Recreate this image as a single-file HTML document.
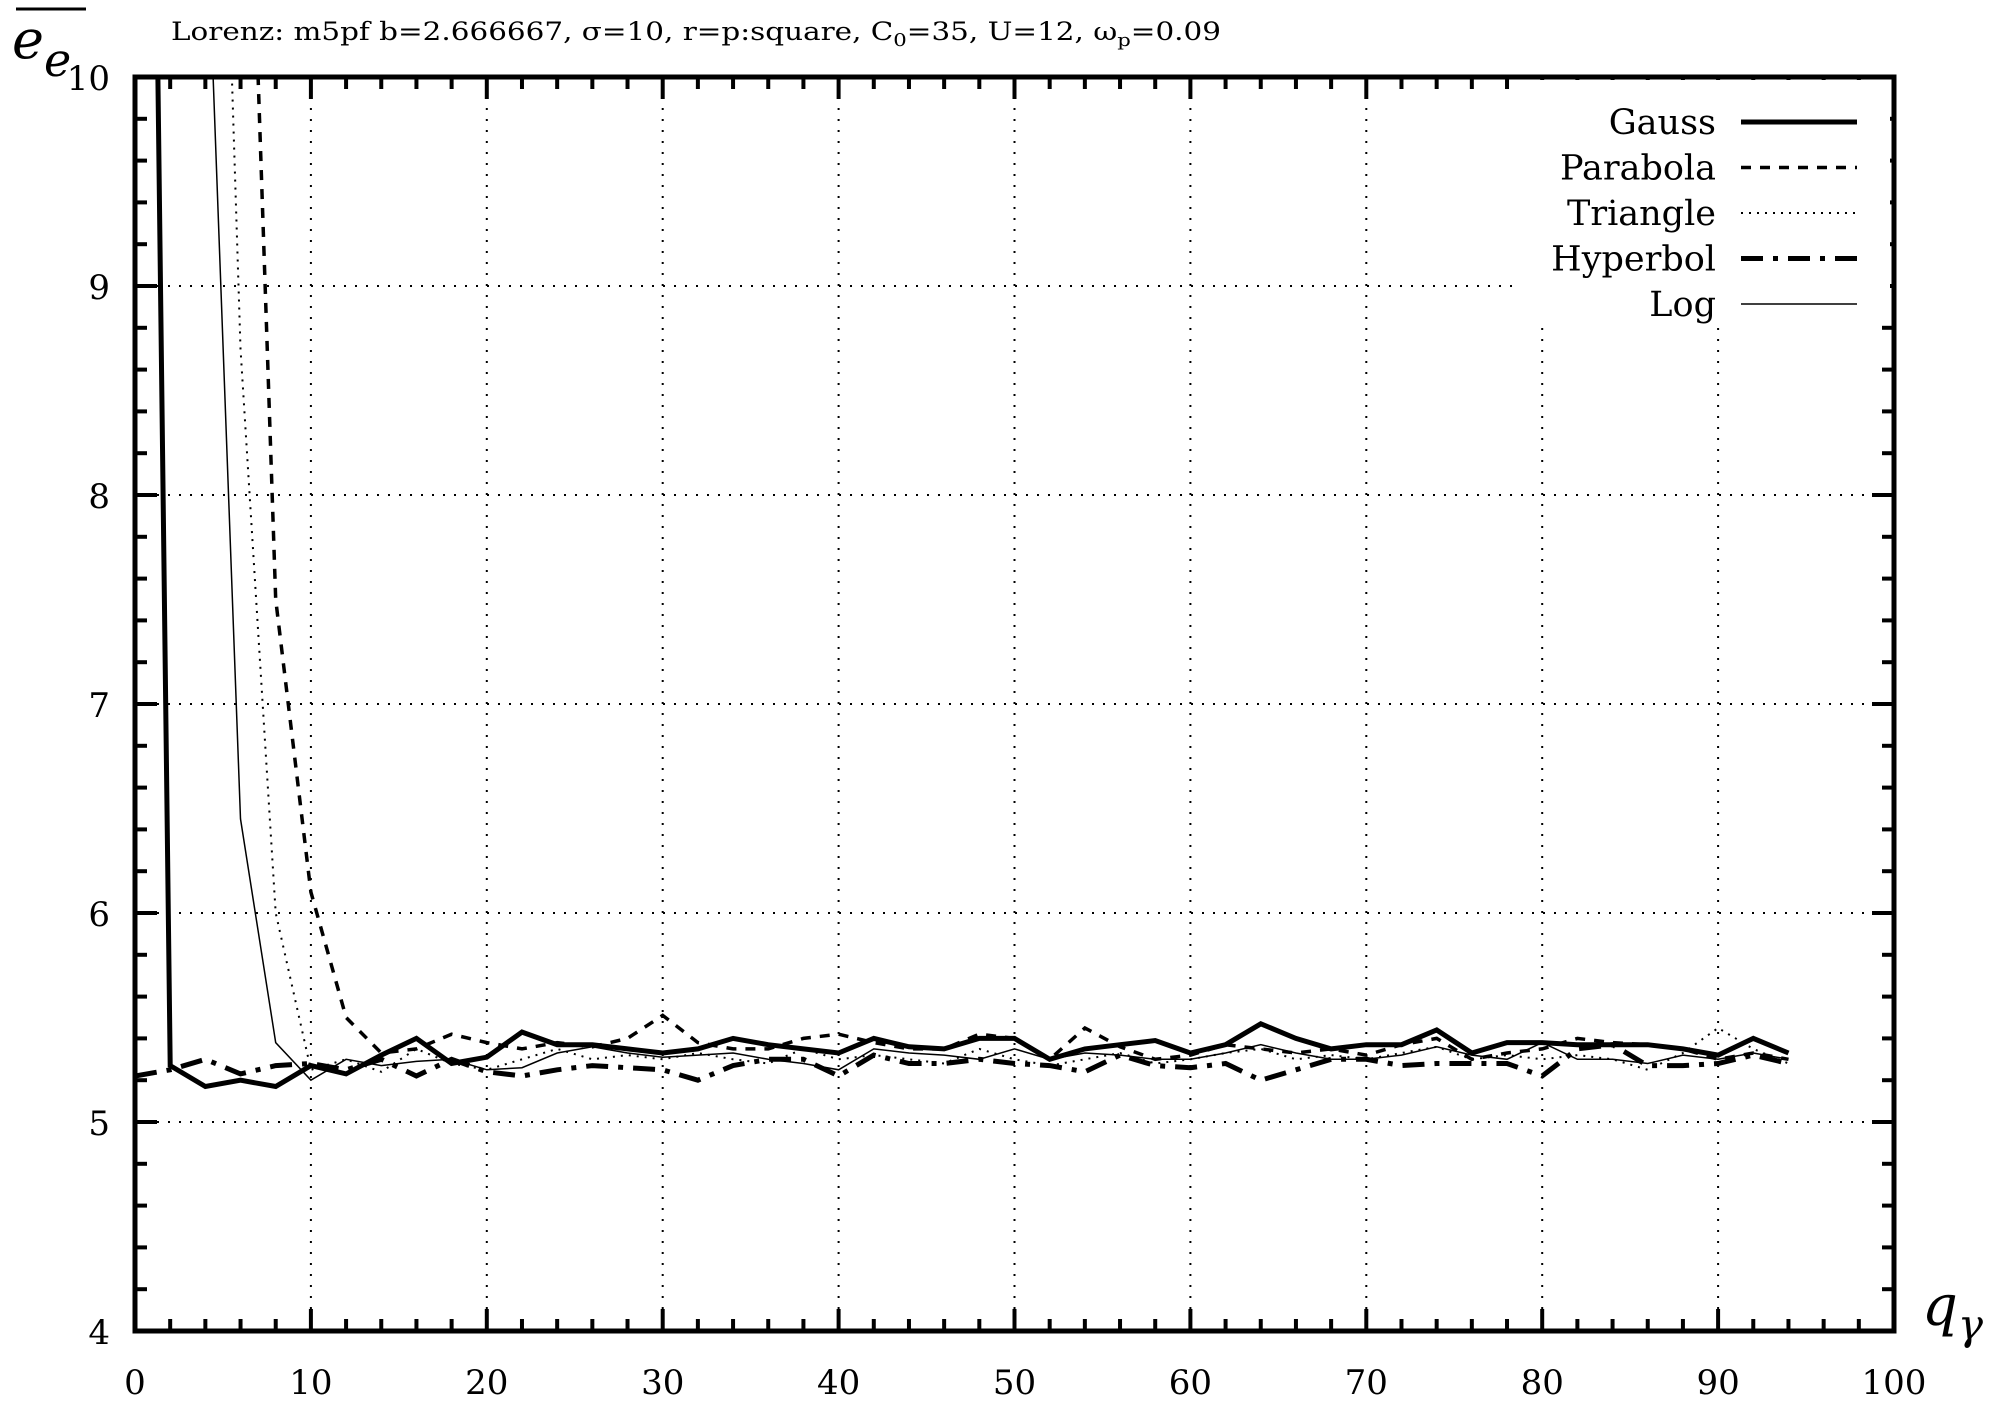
<!DOCTYPE html>
<html><head><meta charset="utf-8"><style>
html,body{margin:0;padding:0;background:#fff;}
svg{display:block;font-family:"DejaVu Serif","Liberation Serif",serif;}
</style></head><body>
<svg id="chart" width="2005" height="1417" viewBox="0 0 2005 1417" xmlns="http://www.w3.org/2000/svg">
<rect width="2005" height="1417" fill="#fff"/>
<text x="171" y="40" font-size="25" textLength="1050" lengthAdjust="spacingAndGlyphs">Lorenz: m5pf b=2.666667, σ=10, r=p:square, C<tspan font-size="18" dy="6">0</tspan><tspan dy="-6">=35, U=12, ω</tspan><tspan font-size="18" dy="6">p</tspan><tspan dy="-6">=0.09</tspan></text>
<g>
<line x1="16" y1="9" x2="86" y2="9" stroke="#000" stroke-width="3"/>
<text x="12" y="58" font-size="54" font-style="italic">e</text>
<text x="44" y="76" font-size="46" font-style="italic">e</text>
</g>
<text x="1922" y="1325" font-size="56" font-style="italic">q<tspan font-size="42" dy="14">γ</tspan></text>
<g id="grid"></g>
<g id="series"></g>
<g id="axes"></g>
<g id="legend"></g>
</svg>
<script>
const xTicks = [0,10,20,30,40,50,60,70,80,90,100];
const yTicks = [4,5,6,7,8,9,10];
const qValues = [0,2,4,6,8,10,12,14,16,18,20,22,24,26,28,30,32,34,36,38,40,42,44,46,48,50,52,54,56,58,60,62,64,66,68,70,72,74,76,78,80,82,84,86,88,90,92,94];
const gaussValues = [18.8,5.27,5.17,5.2,5.17,5.27,5.23,5.32,5.4,5.28,5.31,5.43,5.37,5.37,5.35,5.33,5.35,5.4,5.37,5.35,5.33,5.4,5.36,5.35,5.4,5.4,5.3,5.35,5.37,5.39,5.33,5.37,5.47,5.4,5.35,5.37,5.37,5.44,5.33,5.38,5.38,5.37,5.37,5.37,5.35,5.32,5.4,5.33];
const parabolaValues = [30,26,20,12.5,7.5,6.1,5.5,5.33,5.35,5.42,5.38,5.35,5.38,5.36,5.4,5.51,5.38,5.35,5.35,5.4,5.42,5.38,5.35,5.35,5.42,5.4,5.3,5.45,5.36,5.3,5.32,5.37,5.35,5.33,5.35,5.32,5.37,5.4,5.3,5.33,5.35,5.4,5.38,5.37,5.35,5.3,5.33,5.3];
const triangleValues = [26,20,14,8.7,6.0,5.25,5.3,5.24,5.35,5.28,5.25,5.3,5.35,5.3,5.32,5.3,5.33,5.3,5.28,5.35,5.3,5.32,5.3,5.28,5.35,5.3,5.27,5.3,5.33,5.28,5.3,5.33,5.35,5.3,5.32,5.3,5.33,5.36,5.3,5.32,5.3,5.32,5.3,5.25,5.33,5.45,5.35,5.28];
const hyperbolValues = [5.22,5.25,5.3,5.23,5.27,5.28,5.25,5.3,5.22,5.3,5.24,5.22,5.25,5.27,5.26,5.25,5.2,5.27,5.3,5.3,5.22,5.32,5.28,5.28,5.3,5.28,5.27,5.24,5.32,5.27,5.26,5.28,5.2,5.25,5.3,5.3,5.27,5.28,5.28,5.28,5.22,5.35,5.37,5.27,5.27,5.28,5.32,5.28];
const logValues = [22,15,11,6.45,5.38,5.2,5.3,5.27,5.29,5.3,5.25,5.26,5.33,5.36,5.33,5.31,5.32,5.33,5.3,5.28,5.25,5.35,5.33,5.32,5.3,5.35,5.3,5.33,5.32,5.3,5.3,5.33,5.37,5.33,5.3,5.3,5.32,5.36,5.32,5.3,5.38,5.3,5.3,5.28,5.32,5.3,5.33,5.3];

const L=135,R=1894,T=77,B=1331;
const X0=0,X1=100,Y0=4,Y1=10;
const sx=v=>L+(v-X0)/(X1-X0)*(R-L);
const sy=v=>B-(v-Y0)/(Y1-Y0)*(B-T);
const NS='http://www.w3.org/2000/svg';
function mk(tag,attrs,parent){const e=document.createElementNS(NS,tag);for(const k in attrs)e.setAttribute(k,attrs[k]);parent.appendChild(e);return e;}
const grid=document.getElementById('grid'),axes=document.getElementById('axes'),series=document.getElementById('series'),legend=document.getElementById('legend');

const defs=mk('defs',{},document.getElementById('chart'));
const cp=mk('clipPath',{id:'plotclip'},defs);
mk('rect',{x:L,y:T,width:R-L,height:B-T},cp);
series.setAttribute('clip-path','url(#plotclip)');

xTicks.forEach(v=>{if(v===X0||v===X1)return;
  const g=mk('line',{x1:sx(v),y1:B,x2:sx(v),y2:(v===90?321:T),stroke:'#000','stroke-width':2,'stroke-dasharray':'2,9'},grid);
  
  });
yTicks.forEach(v=>{if(v===Y0||v===Y1)return;
  const g=mk('line',{x1:L,y1:sy(v),x2:(v>=9?1520:R),y2:sy(v),stroke:'#000','stroke-width':2,'stroke-dasharray':'2,9'},grid);
  
  });

function path(vals){return qValues.map((q,i)=>(i?'L':'M')+sx(q).toFixed(1)+','+sy(vals[i]).toFixed(1)).join(' ');}
const styles=[
 {name:'Gauss',vals:gaussValues,w:5,dash:''},
 {name:'Parabola',vals:parabolaValues,w:3.5,dash:'10,9'},
 {name:'Triangle',vals:triangleValues,w:2,dash:'2,6'},
 {name:'Hyperbol',vals:hyperbolValues,w:5,dash:'22,10,5,10'},
 {name:'Log',vals:logValues,w:1.5,dash:''}
];
styles.forEach((s,i)=>{
  const p=mk('path',{d:path(s.vals),fill:'none',stroke:'#000','stroke-width':s.w,'stroke-dasharray':s.dash,'stroke-linejoin':'miter'},series);
  
  
});

mk('rect',{x:1522,y:T+3,width:368,height:240,fill:'#fff'},legend);
styles.forEach((s,i)=>{
  const y=122+i*45.5;
  const t=mk('text',{x:1716,y:y+12,'font-size':35,'text-anchor':'end'},legend);
  t.textContent=s.name;
  
  
  const l=mk('line',{x1:1741,y1:y,x2:1857,y2:y,stroke:'#000','stroke-width':s.w,'stroke-dasharray':s.dash},legend);
  
  
});

const fr=mk('rect',{x:L,y:T,width:R-L,height:B-T,fill:'none',stroke:'#000','stroke-width':5},axes);


for(let v=X0;v<=X1;v+=2){const maj=v%10===0,len=maj?22:12;
  mk('line',{x1:sx(v),y1:B,x2:sx(v),y2:B-len,stroke:'#000','stroke-width':4},axes);
  mk('line',{x1:sx(v),y1:T,x2:sx(v),y2:T+len,stroke:'#000','stroke-width':4},axes);}
for(let k=0;k<=30;k++){const v=Y0+k*0.2,maj=k%5===0,len=maj?22:12;
  mk('line',{x1:L,y1:sy(v),x2:L+len,y2:sy(v),stroke:'#000','stroke-width':4},axes);
  mk('line',{x1:R,y1:sy(v),x2:R-len,y2:sy(v),stroke:'#000','stroke-width':4},axes);}
xTicks.forEach(v=>{const t=mk('text',{x:sx(v),y:1394,'font-size':34,'text-anchor':'middle'},axes);
  t.textContent=v;
  
  });
yTicks.forEach(v=>{const t=mk('text',{x:110,y:sy(v)+13,'font-size':34,'text-anchor':'end'},axes);
  t.textContent=v;
  
  });
</script>
</body></html>
